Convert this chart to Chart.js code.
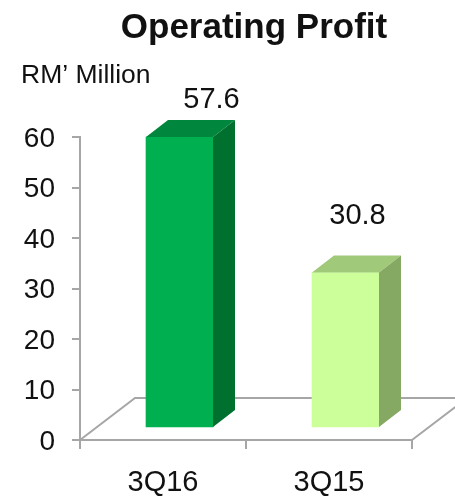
<!DOCTYPE html>
<html>
<head>
<meta charset="utf-8">
<style>
    html, body { margin: 0; padding: 0; background: #fff; }
    #wrap { width: 455px; height: 496px; }
</style>
<script src="https://cdn.jsdelivr.net/npm/chart.js@4/dist/chart.umd.min.js"></script>
</head>
<body>
<div id="wrap"><canvas id="profitChart"></canvas></div>
<script>
const categories = ['3Q16', '3Q15'];
const values = [57.6, 30.8];
const valueLabels = ['57.6', '30.8'];
const frontColors = ['#00B050', '#CCFF99'];
const topColors = ['#00873D', '#A0C97A'];
const sideColors = ['#00702F', '#85A862'];

const FONT = '"Liberation Sans", Arial, sans-serif';
const TEXT_COLOR = '#111';
const AXIS_COLOR = '#A6A6A6';

// depth of the fake 3D floor and of the bars
const floorDx = 55, floorDy = 42;
const barDx = 22, barDy = 17;
// bars stand a little way back on the floor
const shiftX = 16.5, shiftY = 12;
// the value labels do not sit at the same height over each bar
const labelDx = [32, 12], labelDy = [49, 68];

const box3d = {
    id: 'box3d',
    beforeDatasetsDraw(chart) {
        const { ctx, chartArea: a } = chart;
        ctx.save();
        ctx.strokeStyle = AXIS_COLOR;
        ctx.lineWidth = 2;
        ctx.beginPath();
        ctx.moveTo(a.left, a.bottom);
        ctx.lineTo(a.left + floorDx, a.bottom - floorDy);
        ctx.lineTo(a.right + floorDx, a.bottom - floorDy);
        ctx.lineTo(a.right, a.bottom);
        ctx.stroke();
        ctx.restore();
    },
    beforeDatasetDraw(chart) {
        chart.ctx.save();
        chart.ctx.translate(shiftX, -shiftY);
    },
    afterDatasetDraw(chart, args) {
        const ctx = chart.ctx;
        args.meta.data.forEach((bar, i) => {
            const p = bar.getProps(['x', 'y', 'base', 'width'], true);
            const l = p.x - p.width / 2, r = p.x + p.width / 2;
            // top face
            ctx.fillStyle = topColors[i];
            ctx.beginPath();
            ctx.moveTo(l, p.y);
            ctx.lineTo(l + barDx, p.y - barDy);
            ctx.lineTo(r + barDx, p.y - barDy);
            ctx.lineTo(r, p.y);
            ctx.closePath();
            ctx.fill();
            // side face
            ctx.fillStyle = sideColors[i];
            ctx.beginPath();
            ctx.moveTo(r, p.y);
            ctx.lineTo(r + barDx, p.y - barDy);
            ctx.lineTo(r + barDx, p.base - barDy);
            ctx.lineTo(r, p.base);
            ctx.closePath();
            ctx.fill();
        });
        ctx.restore();
    },
    afterDraw(chart) {
        const { ctx } = chart;
        ctx.save();
        ctx.fillStyle = TEXT_COLOR;
        ctx.textBaseline = 'middle';
        ctx.textAlign = 'center';
        ctx.font = 'bold 35px ' + FONT;
        ctx.fillText('Operating Profit', 254, 28);
        ctx.font = '29px ' + FONT;
        chart.getDatasetMeta(0).data.forEach((bar, i) => {
            ctx.fillText(valueLabels[i], bar.x + shiftX + labelDx[i], bar.y - labelDy[i]);
        });
        ctx.font = '26.5px ' + FONT;
        ctx.textAlign = 'left';
        ctx.fillText("RM\u2019 Million", 21, 76);
        ctx.restore();
    }
};

new Chart(document.getElementById('profitChart').getContext('2d'), {
    type: 'bar',
    data: {
        labels: categories,
        datasets: [{ data: values, backgroundColor: frontColors, barThickness: 67 }]
    },
    options: {
        responsive: true,
        maintainAspectRatio: false,
        animation: false,
        layout: { padding: { top: 137, right: 43, bottom: 0, left: 0 } },
        scales: {
            x: {
                grid: { drawOnChartArea: false, offset: true, color: AXIS_COLOR, lineWidth: 2, tickLength: 9 },
                border: { color: AXIS_COLOR, width: 2 },
                afterFit(scale) { scale.height = 56; },
                ticks: { color: TEXT_COLOR, font: { family: FONT, size: 29 }, padding: 17, maxRotation: 0 }
            },
            y: {
                min: 0,
                max: 60,
                grid: { drawOnChartArea: false, color: AXIS_COLOR, lineWidth: 2, tickLength: 8 },
                border: { color: AXIS_COLOR, width: 2 },
                afterFit(scale) { scale.width = 80; },
                ticks: { stepSize: 10, color: TEXT_COLOR, font: { family: FONT, size: 28 }, padding: 17, labelOffset: 2 }
            }
        },
        plugins: {
            legend: { display: false },
            tooltip: { enabled: false }
        }
    },
    plugins: [box3d]
});
</script>
</body>
</html>
